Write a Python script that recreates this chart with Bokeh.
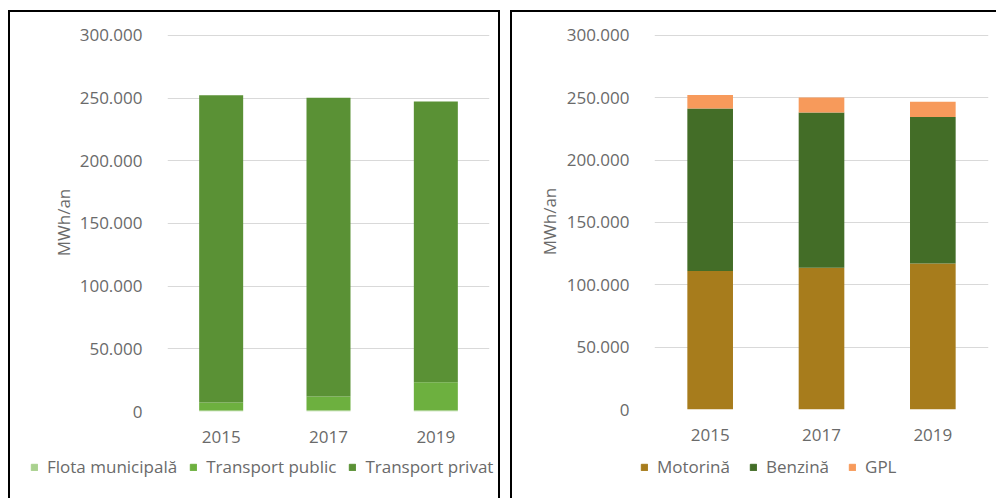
from bokeh.plotting import figure
from bokeh.layouts import row, column
from bokeh.models import Range1d, FactorRange, Legend, LegendItem, FixedTicker
from bokeh.embed import file_html
from bokeh.resources import INLINE

years = ["2015", "2017", "2019"]
# left chart (MWh/an)
flota_municipala = [800, 900, 900]
transport_public = [6400, 11000, 22400]
transport_privat = [245000, 238300, 224000]
# right chart (MWh/an)
motorina = [111000, 113700, 117000]
benzina = [130400, 124500, 117500]
gpl = [10800, 12000, 12200]

left_names = ["Flota municipală", "Transport public", "Transport privat"]
right_names = ["Motorină", "Benzină", "GPL"]
left_colors = ["#a9d18e", "#6db03f", "#5a9135"]
right_colors = ["#a77c1c", "#436d27", "#f79a5b"]

y_ticks = [0, 50000, 100000, 150000, 200000, 250000, 300000]
y_tick_labels = ["0", "50.000", "100.000", "150.000", "200.000", "250.000", "300.000"]

FONT = "Open Sans"
TXT = "#6a6a6a"


def make_fig(width, height, ml, mr, mt, mb, label_standoff, styles, margin):
    p = figure(x_range=FactorRange(*years, range_padding=0.0), y_range=Range1d(0, 301500),
               width=width, height=height, output_backend="svg", toolbar_location=None,
               min_border_left=ml, min_border_right=mr, min_border_top=mt, min_border_bottom=mb,
               outline_line_color=None, styles=styles, margin=margin, frame_align=False)
    p.yaxis.ticker = FixedTicker(ticks=y_ticks)
    p.yaxis.major_label_overrides = {t: l for t, l in zip(y_ticks, y_tick_labels)}
    for ax in (p.xaxis, p.yaxis):
        ax.axis_line_color = None
        ax.major_tick_line_color = None
        ax.minor_tick_line_color = None
        ax.major_label_text_font = FONT
        ax.major_label_text_font_size = "17px"
        ax.major_label_text_color = TXT
    p.yaxis.major_label_standoff = 19
    p.xaxis.major_label_standoff = 13
    p.yaxis.axis_label = "MWh/an"
    p.yaxis.axis_label_text_font = FONT
    p.yaxis.axis_label_text_font_style = "normal"
    p.yaxis.axis_label_text_font_size = "17px"
    p.yaxis.axis_label_text_color = TXT
    p.yaxis.axis_label_standoff = label_standoff
    p.xgrid.grid_line_color = None
    p.ygrid.grid_line_color = "#d9d9d9"
    p.ygrid.grid_line_width = 1.2
    return p


def legend_fig(width, height, names, colors, x, y, spacing, styles, margin):
    q = figure(width=width, height=height, output_backend="svg", toolbar_location=None,
               x_axis_type=None, y_axis_type=None, min_border=0, outline_line_color=None,
               x_range=Range1d(0, 1), y_range=Range1d(0, 1), styles=styles, margin=margin,
               frame_align=False)
    q.xgrid.grid_line_color = None
    q.ygrid.grid_line_color = None
    # legend swatches only: one point placed outside the visible range
    rs = [q.vbar(x=[5], top=[5], bottom=[4], width=0.1, color=c) for c in colors]
    leg = Legend(items=[LegendItem(label=n, renderers=[r]) for n, r in zip(names, rs)],
                 location=(x, y), orientation="horizontal",
                 glyph_width=8, glyph_height=8, label_standoff=9, spacing=spacing,
                 padding=0, margin=0, border_line_color=None, background_fill_alpha=0,
                 label_text_font=FONT, label_text_font_size="17px", label_text_color=TXT,
                 label_height=20)
    q.add_layout(leg, "center")
    return q


# ---- left panel
p1 = make_fig(492, 440, 157, 13, 21, 41, 2,
              {"border-top": "2px solid black", "border-left": "2px solid black",
               "border-right": "2px solid black"}, (10, 0, 0, 8))
src1 = dict(years=years, f=flota_municipala, t=transport_public, p=transport_privat)
p1.vbar_stack(["f", "t", "p"], x="years", width=0.41, source=src1,
              color=left_colors, line_width=0)
l1 = legend_fig(492, 48, left_names, left_colors, 20, 20, 12,
                {"border-left": "2px solid black", "border-right": "2px solid black"},
                (0, 0, 0, 8))

# ---- right panel
p2 = make_fig(486, 440, 142, 10, 21, 43, 3,
              {"border-top": "2px solid black", "border-left": "2px solid black"}, (10, 0, 0, 10))
src2 = dict(years=years, m=motorina, b=benzina, g=gpl)
p2.vbar_stack(["m", "b", "g"], x="years", width=0.41, source=src2,
              color=right_colors, line_width=0)
l2 = legend_fig(486, 48, right_names, right_colors, 128, 20, 19,
                {"border-left": "2px solid black"}, (0, 0, 0, 10))

layout = row(column(p1, l1), column(p2, l2))
open("out.html", "w").write(file_html(layout, INLINE))
